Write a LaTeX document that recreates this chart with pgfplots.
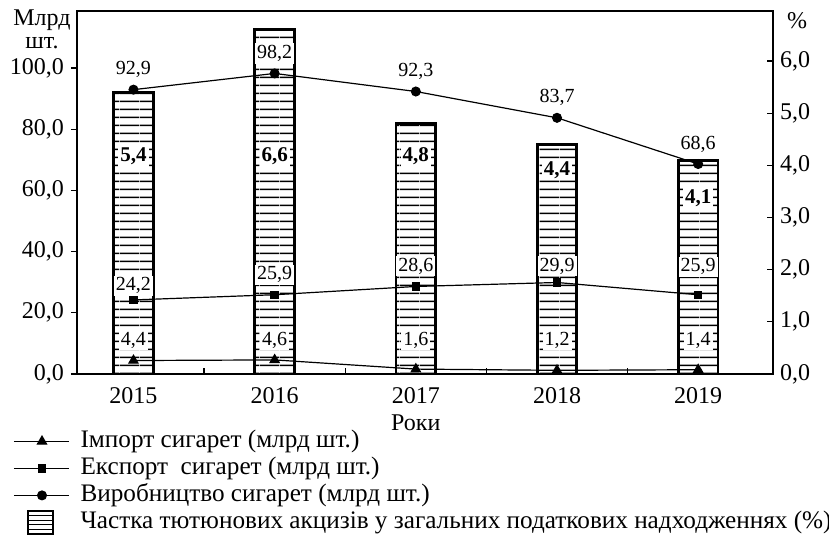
\documentclass[border=0pt]{standalone}
\usepackage{fontspec}
\setmainfont{Liberation Serif}
\usepackage{pgfplots}
\pgfplotsset{compat=1.18}
\usetikzlibrary{patterns}

\pgfdeclarepatternformonly{hlinesfour}{\pgfpointorigin}{\pgfqpoint{10pt}{4pt}}{\pgfqpoint{10pt}{4pt}}{%
  \pgfsetlinewidth{0.8pt}%
  \pgfpathmoveto{\pgfqpoint{-0.1pt}{2pt}}%
  \pgfpathlineto{\pgfqpoint{10.1pt}{2pt}}%
  \pgfusepath{stroke}}

\pgfplotsset{
  common/.style={
    scale only axis, width=348pt, height=181.5pt,
    xmin=-0.4, xmax=4.53, clip=false,
    tick label style={font=\fontsize{12}{14}\selectfont},
    axis line style={line width=0.6pt},
    tick style={line width=0.6pt, black},
    yticklabel style={/pgf/number format/fixed, /pgf/number format/fixed zerofill,
      /pgf/number format/precision=1, /pgf/number format/use comma,
      /pgf/number format/assume math mode=true},
  },
}
\tikzset{
  lbl/.style={font=\fontsize{10}{12}\selectfont, fill=white, inner sep=1pt},
  blbl/.style={font=\fontsize{10.5}{12}\selectfont\bfseries, fill=white, inner sep=1pt},
}

\begin{document}
\begin{tikzpicture}
\useasboundingbox (-38.5pt,-85.5pt) rectangle (376pt,187pt);

% right axis with bars
\begin{axis}[common,
  ymin=0, ymax=6.96,
  axis x line*=bottom, axis y line*=right,
  tick align=inside, major tick length=2.8pt,
  xtick={0.5,1.5,2.5,3.5}, xticklabels={},
  ytick={0,1,2,3,4,5,6},
]
\addplot[ybar, bar width=0.28, draw=black, line width=1.4pt,
  preaction={fill=white},
  pattern=hlinesfour]
  coordinates {(0,5.4) (1,6.6) (2,4.8) (3,4.4) (4,4.1)};
\end{axis}

% left axis with lines
\begin{axis}[common,
  ymin=0, ymax=118.6,
  tick align=outside, major tick length=3pt,
  xtick={0,1,2,3,4}, xticklabels={2015,2016,2017,2018,2019},
  xtick style={draw=none}, xtick pos=bottom, ytick pos=left,
  ytick={0,20,40,60,80,100},
  legend image code/.code={\draw[mark repeat=2,mark phase=2] plot coordinates {(0pt,0pt) (14pt,0pt) (27.5pt,0pt)};},
  legend style={at={(axis description cs:0,0)}, anchor=north west,
    xshift=-32pt, yshift=-26.75pt, draw=none, fill=none, inner sep=0pt,
    row sep=0pt, font=\fontsize{12.6}{14}\selectfont,
    nodes={inner sep=0pt, text height=10pt, text depth=3.5pt},
    /tikz/every odd column/.style={column sep=5.5pt}},
  legend cell align=left,
]
\addplot[black, line width=0.6pt, mark=triangle*, mark size=2.6pt]
  coordinates {(0,4.4) (1,4.6) (2,1.6) (3,1.2) (4,1.4)};
\addlegendentry{Імпорт сигарет (млрд шт.)}
\addplot[black, line width=0.6pt, mark=square*, mark size=1.8pt]
  coordinates {(0,24.2) (1,25.9) (2,28.6) (3,29.9) (4,25.9)};
\addlegendentry{Експорт\ \ сигарет (млрд шт.)}
\addplot[black, line width=0.6pt, mark=*, mark size=2.2pt]
  coordinates {(0,92.9) (1,98.2) (2,92.3) (3,83.7) (4,68.6)};
\addlegendentry{Виробництво сигарет (млрд шт.)}
\addlegendimage{legend image code/.code={
  \draw[line width=1pt, fill=white] (7pt,-5.75pt) rectangle (19.5pt,5.75pt);
  \draw[line width=0.5pt] (7pt,-3.45pt) -- (19.5pt,-3.45pt) (7pt,-1.15pt) -- (19.5pt,-1.15pt)
    (7pt,1.15pt) -- (19.5pt,1.15pt) (7pt,3.45pt) -- (19.5pt,3.45pt);}}
\addlegendentry{Частка тютюнових акцизів у загальних податкових надходженнях (\%)}

% production labels
\node[lbl, yshift=10pt] at (axis cs:0,92.9) {92,9};
\node[lbl, yshift=10pt] at (axis cs:1,98.2) {98,2};
\node[lbl, yshift=10pt] at (axis cs:2,92.3) {92,3};
\node[lbl, yshift=10pt] at (axis cs:3,83.7) {83,7};
\node[lbl, yshift=10pt] at (axis cs:4,68.6) {68,6};
% export labels
\node[lbl] at (axis cs:0,28.8) {24,2};
\node[lbl] at (axis cs:1,32.4) {25,9};
\node[lbl] at (axis cs:2,35.3) {28,6};
\node[lbl] at (axis cs:3,35.3) {29,9};
\node[lbl] at (axis cs:4,35.0) {25,9};
% import labels
\node[lbl] at (axis cs:0,11.1) {4,4};
\node[lbl] at (axis cs:1,11.1) {4,6};
\node[lbl] at (axis cs:2,11.1) {1,6};
\node[lbl] at (axis cs:3,11.1) {1,2};
\node[lbl] at (axis cs:4,11.1) {1,4};
% bar labels
\node[blbl] at (axis cs:0,71.2) {5,4};
\node[blbl] at (axis cs:1,71.2) {6,6};
\node[blbl] at (axis cs:2,71.2) {4,8};
\node[blbl] at (axis cs:3,66.7) {4,4};
\node[blbl] at (axis cs:4,57.5) {4,1};

% axis titles
\node[align=center, inner sep=0pt, font=\fontsize{12}{11.5}\selectfont,
  xshift=-17.5pt, yshift=-9pt] at (rel axis cs:0,1) {Млрд\\шт.};
\node[inner sep=0pt, font=\fontsize{12}{14}\selectfont, xshift=12pt, yshift=-5pt]
  at (rel axis cs:1,1) {\%};
\node[inner sep=0pt, font=\fontsize{12}{14}\selectfont, yshift=-24.5pt]
  at (axis cs:2,0) {Роки};
\end{axis}
\end{tikzpicture}
\end{document}
